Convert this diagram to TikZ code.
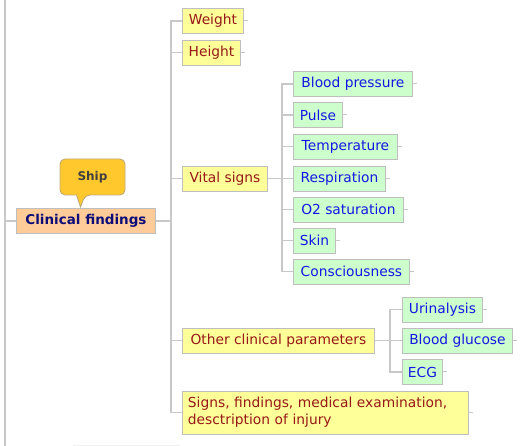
\documentclass[tikz,border=0pt]{standalone}
\usepackage{fontspec}
\setmainfont{DejaVu Sans}
\begin{document}
\definecolor{wire}{RGB}{200,200,200}
\definecolor{frameline}{RGB}{200,200,200}
\definecolor{boxline}{RGB}{190,190,190}
\definecolor{yelfill}{RGB}{255,255,153}
\definecolor{yeltext}{RGB}{150,24,24}
\definecolor{grnfill}{RGB}{204,255,204}
\definecolor{grntext}{RGB}{22,22,228}
\definecolor{rootfill}{RGB}{255,204,153}
\definecolor{roottext}{RGB}{12,12,120}
\definecolor{tagfill}{RGB}{255,201,46}
\definecolor{tagline}{RGB}{190,170,120}
\definecolor{tagtext}{RGB}{64,64,64}
\begin{tikzpicture}[x=1pt,y=-1pt,
  font=\fontsize{13.8}{17}\selectfont,
  conn/.style={draw=wire,line width=1.3pt},
  stub/.style={draw=wire,line width=1pt},
  basebox/.style={draw=boxline,line width=0.9pt,anchor=west,minimum height=25pt,inner xsep=5pt,inner ysep=0pt},
  topic/.style={basebox,fill=yelfill,text=yeltext},
  detail/.style={basebox,fill=grnfill,text=grntext},
  rootbox/.style={basebox,fill=rootfill,text=roottext,font=\fontsize{13.5}{17}\selectfont\bfseries},
  tag/.style={fill=tagfill,draw=tagline,line width=0.9pt,rounded corners=5pt},
]
\useasboundingbox (0,0) rectangle (528,446);

% outer frame lines
\draw[draw=frameline,line width=1.6pt] (5,0) -- (5,446);
\draw[draw=gray!12,line width=0.8pt] (73,445.5) -- (180,445.5);

% root
\node[rootbox,minimum width=139pt] (cf) at (16,221) {Clinical findings};
\coordinate (lt) at (5,221);
\draw[conn] (lt) -- (cf.west);

% marker callout
\path[tag] (60,159) -- (125,159) -- (125,195) -- (85,195)
  [sharp corners] -- (80.5,207) -- (76.5,195) [rounded corners=5pt] -- (60,195) -- cycle;
\node[text=tagtext,font=\fontsize{12}{14}\selectfont\bfseries] (ship) at (92.5,177) {Ship};

% first level
\node[topic,minimum width=61pt] (wt) at (182,21) {Weight};
\node[topic,minimum width=58pt] (ht) at (182,52.5) {Height};
\node[topic,minimum width=85pt] (vs) at (182,178.5) {Vital signs};
\node[topic,minimum width=192pt] (ocp) at (182,340.5) {Other clinical parameters};
\node[topic,minimum height=43pt,minimum width=286pt,align=left,text width=275pt,inner xsep=5.5pt] (sf) at (182,412.5)
  {Signs, findings, medical examination,\\desctription of injury};

\coordinate (t) at (171,221);
\draw[conn] (cf.east) -- (t);
\foreach \n in {wt,ht,vs,ocp,sf} \draw[conn] (t) |- (\n.west);

% vital signs
\node[detail,minimum width=119pt] (bp) at (293,84) {Blood pressure};
\node[detail,minimum width=49pt] (pu) at (293,115) {Pulse};
\node[detail,minimum width=104pt] (te) at (293,146.5) {Temperature};
\node[detail,minimum width=92pt] (re) at (293,178.5) {Respiration};
\node[detail,minimum width=110pt] (os) at (293,209.5) {O2 saturation};
\node[detail,minimum width=42pt] (sk) at (293,240.5) {Skin};
\node[detail,minimum width=116pt] (co) at (293,271.5) {Consciousness};

\coordinate (v) at (282,178.5);
\draw[conn] (vs.east) -- (v);
\foreach \n in {bp,pu,te,re,os,sk,co} \draw[conn] (v) |- (\n.west);

% other parameters
\node[detail,minimum width=80pt] (ur) at (402,309.5) {Urinalysis};
\node[detail,minimum width=110pt] (bg) at (402,340.5) {Blood glucose};
\node[detail,minimum width=40pt] (ecg) at (402,372) {ECG};

\coordinate (o) at (390,340.5);
\draw[conn] (ocp.east) -- (o);
\foreach \n in {ur,bg,ecg} \draw[conn] (o) |- (\n.west);

% collapse stubs on the leaves
\foreach \n in {wt,ht,sf,bp,pu,te,re,os,sk,co,ur,bg,ecg} \draw[stub] (\n.east) -- ++(4.5,0);
\end{tikzpicture}
\end{document}
